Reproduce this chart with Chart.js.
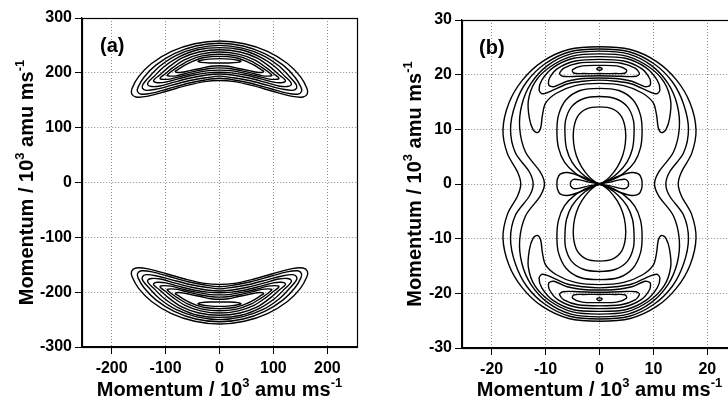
<!DOCTYPE html>
<html>
<head>
<meta charset="utf-8">
<script src="https://cdn.jsdelivr.net/npm/chart.js@4.4.0/dist/chart.umd.min.js"></script>
<style>
  html, body { margin: 0; padding: 0; background: #fff; width: 728px; height: 400px; overflow: hidden; }
  #chartA { position: absolute; left: 0; top: 0; }
  #chartB { position: absolute; left: 364px; top: 0; }
</style>
</head>
<body>
<canvas id="chartA" width="364" height="400"></canvas>
<canvas id="chartB" width="380" height="400"></canvas>
<script>
// ── Data (momentum in 10^3 amu ms^-1) ──

const xTicksA = [-200, -100, 0, 100, 200];
const yTicksA = [-300, -200, -100, 0, 100, 200, 300];
const xTicksB = [-20, -10, 0, 10, 20];
const yTicksB = [-30, -20, -10, 0, 10, 20, 30];

// (a) upper crescent, right half of each contour: top centre -> tip -> bottom centre
// the lower crescent is its mirror image
const crescentRingsA = [
  [[0,258],[46,253],[89,239],[126,217],[150,193],[162,172],[163,162],[155,156],[135,157],[100,166],[60,177],[28,184],[0,186]],
  [[0,254],[44,249],[84,235],[118,214],[140,192],[151,174],[152,166],[145,161],[125,163],[95,171],[58,181],[27,187],[0,190]],
  [[0,250],[42,245],[80,232],[111,212],[131,192],[142,179],[143,172],[136,168],[118,170],[90,177],[55,186],[25,191],[0,194]],
  [[0,246],[40,242],[75,229],[103,211],[122,193],[132,183],[133,178],[126,175],[110,176],[84,183],[52,191],[24,196],[0,198]],
  [[0,242],[38,238],[70,227],[95,210],[112,195],[121,188],[122,184],[115,182],[100,183],[77,189],[48,196],[22,200],[0,201]],
  [[0,238],[35,234],[64,224],[86,210],[101,198],[109,192],[110,189],[103,188],[90,189],[70,194],[44,200],[20,204],[0,205]],
  [[0,234],[32,231],[58,222],[77,211],[90,202],[96,197],[97,195],[90,194],[78,195],[62,199],[40,204],[18,208],[0,209]],
  [[0,230],[28,228],[50,221],[66,213],[77,206],[82,203],[80,201],[70,201],[55,204],[35,208],[16,212],[0,213]],
  [[0,226],[20,225],[34,223],[40,221],[34,219],[18,218],[0,218]]
];

// (b) outer contours, upper-right quarter: top centre -> crossing of p = 0
const peanutQuartersB = [
  [[0,25.1],[5.7,24.6],[10.6,22.4],[14.3,19.0],[16.8,14.8],[17.9,9.9],[17.1,5.6],[15.2,2.2],[14.6,0]],
  [[0,24.7],[5.5,24.2],[10.1,22.0],[13.5,18.7],[15.6,14.6],[16.5,10.0],[15.6,5.7],[13.0,2.2],[12.3,0]],
  [[0,24.3],[5.3,23.8],[9.6,21.7],[12.7,18.4],[14.4,14.5],[14.8,10.2],[13.7,5.8],[11.0,2.2],[10.2,0]]
];

// (b) cap contours round the upper peak, right half
const capHalvesB = [
  [[0,23.8],[5,23.4],[9.2,21.4],[12,18.6],[13.2,15.2],[13.0,12.0],[12.3,9.9],[11.5,9.4],[10.9,10.3],[10.6,12.5],[10.0,14.8],[8.0,16.6],[4.5,18.0],[0,18.4]],
  [[0,23.3],[4.8,23.0],[8.6,21.3],[10.7,19.0],[11.2,17.2],[10.6,16.5],[9.0,17.0],[6.0,18.3],[3,18.8],[0,19.0]],
  [[0,22.8],[4.5,22.5],[7.8,21.1],[9.3,19.3],[9.4,18.1],[8.5,17.8],[6,18.8],[3,19.3],[0,19.4]],
  [[0,22.3],[4,22.1],[6.6,21.2],[7.4,20.2],[6.8,19.7],[4,19.7],[0,19.8]],
  [[0,21.7],[3.2,21.6],[5.0,20.9],[4.8,20.3],[3,20.2],[0,20.2]],
  [[0,21.35],[0.5,21.05],[0,20.8]]
];

// (b) figure-eight contours through the origin, upper-right quarter
const eightQuartersB = [
  [[0,17.5],[3.6,17.1],[6.2,15.4],[7.6,12.6],[7.9,9.6],[7.6,6.6],[6.5,4.0],[4.4,1.9],[2.0,0.6],[0,0]],
  [[0,16.0],[3.0,15.6],[5.2,14.1],[6.3,11.6],[6.4,9.0],[6.1,6.4],[5.1,4.0],[3.4,2.0],[1.5,0.6],[0,0]],
  [[0,14.1],[2.5,13.7],[4.1,12.3],[4.8,10.0],[4.8,7.5],[4.3,5.2],[3.3,3.1],[1.9,1.3],[0.8,0.4],[0,0]]
];

// (b) small side lobes along p = 0, upper edge of the right lobe
const lobeHalvesB = [
  [[0,0],[1.8,0.7],[4,1.6],[6.0,2.1],[7.3,1.8],[7.8,0.9],[7.9,0]],
  [[0,0],[2,0.35],[3.6,0.75],[4.8,0.85],[5.3,0.45],[5.4,0]]
];

// ── Contour helpers ──

const FONT = 'Arial, "Liberation Sans", Helvetica, sans-serif';

const flipY = arr => arr.map(([x, y]) => [x, -y]);
// right half (top -> bottom) closed by its mirror image in x = 0
const closeX = half => half.concat(half.slice(0, -1).reverse().map(([x, y]) => [-x, y]));
// upper-right quarter -> right half
const quarterToHalf = q => q.concat(flipY(q.slice(0, -1).reverse()));
// upper-right quarter ending at the origin -> figure eight
const eight = q => q
  .concat(q.slice(0, -1).reverse().map(([x, y]) => [-x, -y]))
  .concat(q.slice(1).map(([x, y]) => [x, -y]))
  .concat(q.slice(0, -1).reverse().map(([x, y]) => [-x, y]));
const lobe = h => h.concat(flipY(h.slice(0, -1).reverse()));

// closed contours drop the repeated end point and are drawn as a smooth loop
const contour = (arr, closed) => ({
  data: (closed ? arr.slice(0, -1) : arr).map(([x, y]) => ({ x, y })),
  loop: !!closed,
  showLine: true,
  borderColor: '#000',
  borderWidth: 1.4,
  pointRadius: 0,
  tension: 0.3,
  fill: false
});

const datasetsA = [];
crescentRingsA.forEach(h => {
  const ring = closeX(h);
  datasetsA.push(contour(ring, true), contour(flipY(ring), true));
});

const datasetsB = [];
peanutQuartersB.forEach(q => datasetsB.push(contour(closeX(quarterToHalf(q)), true)));
capHalvesB.forEach(h => {
  const cap = closeX(h);
  datasetsB.push(contour(cap, true), contour(flipY(cap), true));
});
eightQuartersB.forEach(q => datasetsB.push(contour(eight(q), true)));
lobeHalvesB.forEach(h => {
  const l = lobe(h);
  datasetsB.push(contour(l), contour(l.map(([x, y]) => [-x, y])));
});

// mark the line elements of closed contours as loops so the spline wraps round
const loopPlugin = {
  id: 'closedContours',
  afterDatasetUpdate(chart, args) {
    const line = chart.getDatasetMeta(args.index).dataset;
    if (line && chart.data.datasets[args.index].loop) {
      line._loop = true;
      line._fullLoop = true;
    }
  }
};

// ── Text ──

function drawMomentumTitle(ctx, cx, cy, vertical) {
  const parts = [['Momentum / 10', false], ['3', true], [' amu ms', false], ['-1', true]];
  const big = 'bold 20px ' + FONT;
  const small = 'bold 13px ' + FONT;
  let total = 0;
  parts.forEach(([t, sup]) => { ctx.font = sup ? small : big; total += ctx.measureText(t).width; });
  ctx.save();
  ctx.translate(cx, cy);
  if (vertical) ctx.rotate(-Math.PI / 2);
  ctx.fillStyle = '#000';
  ctx.textAlign = 'left';
  ctx.textBaseline = 'alphabetic';
  let x = -total / 2;
  parts.forEach(([t, sup]) => {
    ctx.font = sup ? small : big;
    ctx.fillText(t, x, sup ? -9 : 0);
    x += ctx.measureText(t).width;
  });
  ctx.restore();
}

function panelPlugin(p) {
  return {
    id: 'panel',
    afterDatasetsDraw(chart) {
      const { ctx, chartArea: a } = chart;
      ctx.save();
      ctx.strokeStyle = '#000';
      ctx.lineWidth = 1.2;
      ctx.strokeRect(a.left + 0.5, a.top + 0.5, a.right - a.left, a.bottom - a.top);
      ctx.restore();
    },
    afterDraw(chart) {
      const { ctx, chartArea: a } = chart;
      drawMomentumTitle(ctx, (a.left + a.right) / 2, 396, false);
      drawMomentumTitle(ctx, p.yTitleX, (a.top + a.bottom) / 2, true);
      ctx.save();
      ctx.font = 'bold 20px ' + FONT;
      ctx.fillStyle = '#000';
      ctx.fillText(p.label, p.labelX, p.labelY);
      ctx.restore();
    }
  };
}

function axis(min, max, ticks, opts) {
  return {
    type: 'linear',
    min, max,
    afterBuildTicks: ax => { ax.ticks = ticks.map(v => ({ value: v })); },
    afterFit: opts.fit,
    ticks: {
      color: '#000',
      font: { family: FONT, size: 16, weight: 'bold' },
      padding: opts.pad,
      maxRotation: 0,
      autoSkip: false
    },
    grid: {
      color: '#8c8c8c',
      lineWidth: 1,
      tickColor: '#000',
      tickLength: 7,
      tickBorderDash: []
    },
    border: { display: true, color: '#000', width: 1.2, dash: [1, 2] }
  };
}

function makeChart(id, datasets, cfg) {
  return new Chart(document.getElementById(id), {
    type: 'scatter',
    data: { datasets },
    options: {
      responsive: false,
      animation: false,
      events: [],
      layout: { padding: cfg.padding },
      plugins: { legend: { display: false }, tooltip: { enabled: false } },
      scales: {
        x: axis(cfg.xMin, cfg.xMax, cfg.xTicks, { pad: 5, fit: s => { s.height = 30; } }),
        y: axis(cfg.yMin, cfg.yMax, cfg.yTicks, { pad: cfg.yPad, fit: s => { s.width = cfg.yWidth; } })
      }
    },
    plugins: [loopPlugin, panelPlugin(cfg.panel)]
  });
}

makeChart('chartA', datasetsA, {
  xMin: -255, xMax: 255, yMin: -300, yMax: 300,
  xTicks: xTicksA, yTicks: yTicksA,
  yWidth: 82, yPad: 3,
  padding: { left: 0, top: 18, right: 7, bottom: 23 },
  panel: { label: '(a)', labelX: 100, labelY: 52, yTitleX: 33 }
});

makeChart('chartB', datasetsB, {
  xMin: -25.5, xMax: 25.5, yMin: -30, yMax: 30,
  xTicks: xTicksB, yTicks: yTicksB,
  yWidth: 98, yPad: 3,
  padding: { left: 0, top: 20, right: 7, bottom: 22 },
  panel: { label: '(b)', labelX: 115, labelY: 54, yTitleX: 57 }
});
</script>
</body>
</html>
